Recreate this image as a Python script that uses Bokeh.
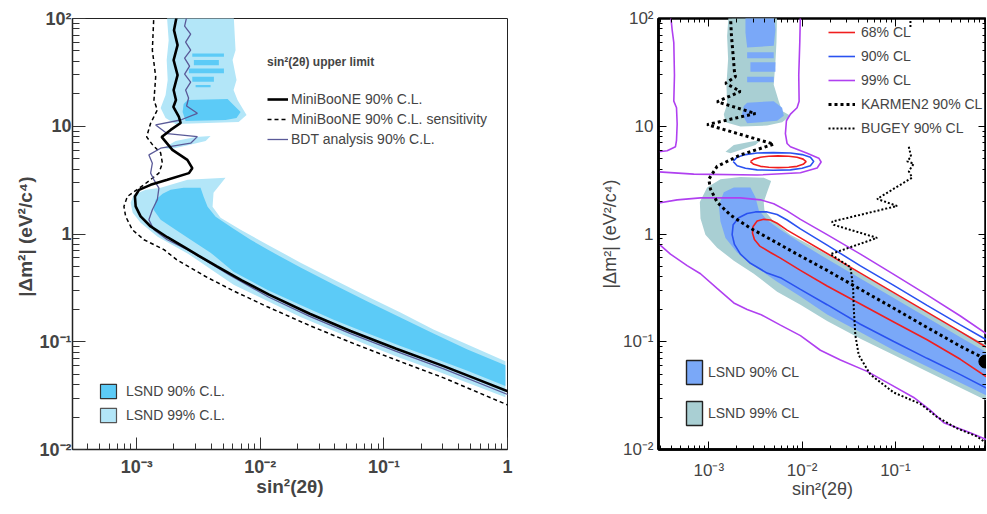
import numpy as np
from bokeh.plotting import figure
from bokeh.layouts import row
from bokeh.models import FixedTicker, CustomJSTickFormatter, LogAxis, Legend, LegendItem
from bokeh.embed import file_html
from bokeh.resources import INLINE

# ============ DATA: log10(sin^2(2theta)) and log10(|dm^2| [eV^2/c^4]) ============
# ---- left panel ----
L_lsnd99_top_lx = [-2.757, -2.216, -2.200, -2.224, -2.192, -2.216, -2.184, -2.111, -2.175, -2.685, -2.766, -2.806, -2.766, -2.749, -2.757, -2.741]
L_lsnd99_top_ly = [2.05, 2.05, 1.706, 1.614, 1.429, 1.336, 1.243, 1.104, 1.040, 1.021, 1.077, 1.169, 1.290, 1.429, 1.614, 1.799]
L_lsnd99_isl_lx = [-2.782, -2.685, -2.523, -2.402, -2.442, -2.604, -2.725]
L_lsnd99_isl_ly = [0.799, 0.864, 0.901, 0.910, 0.864, 0.818, 0.790]
L_lsnd99_low_lx = [-2.806, -2.588, -2.281, -2.378, -2.386, -2.321, -2.159, -1.941, -1.674, -1.407, -1.133, -0.866, -0.599, -0.324, -0.017,
                   -0.017, -0.324, -0.599, -0.866, -1.133, -1.674, -2.216, -2.588, -2.830, -2.968, -3.032, -3.049, -3.024, -2.927]
L_lsnd99_low_ly = [0.429, 0.503, 0.521, 0.382, 0.253, 0.151, 0.040, -0.099, -0.266, -0.423, -0.581, -0.729, -0.886, -1.025, -1.182,
                   -1.516, -1.380, -1.260, -1.150, -1.030, -0.770, -0.470, -0.180, -0.025, 0.105, 0.197, 0.290, 0.364, 0.410]
L_lsnd90_blob_lx = [-2.588, -2.264, -2.216, -2.159, -2.192, -2.281, -2.604, -2.628, -2.620]
L_lsnd90_blob_ly = [1.243, 1.253, 1.197, 1.132, 1.077, 1.058, 1.049, 1.132, 1.206]
L_strip_x0 = [-2.550, -2.537, -2.577, -2.550, -2.523]
L_strip_x1 = [-2.294, -2.335, -2.294, -2.375, -2.402]
L_strip_y0 = [1.644, 1.567, 1.491, 1.413, 1.361]
L_strip_y1 = [1.676, 1.614, 1.537, 1.459, 1.382]
L_lsnd90_low_lx = [-2.725, -2.620, -2.483, -2.458, -2.426, -2.361, -2.216, -2.078, -1.941, -1.674, -1.407, -1.133, -0.866, -0.599, -0.324, -0.017,
                   -0.017, -0.324, -0.599, -0.866, -1.133, -1.407, -1.674, -1.941, -2.216, -2.402, -2.563, -2.685, -2.806, -2.863, -2.846, -2.790]
L_lsnd90_low_ly = [0.410, 0.429, 0.429, 0.345, 0.253, 0.160, 0.049, -0.053, -0.145, -0.312, -0.469, -0.627, -0.775, -0.923, -1.071, -1.219,
                   -1.410, -1.270, -1.150, -1.040, -0.920, -0.795, -0.660, -0.520, -0.350, -0.173, -0.053, 0.040, 0.132, 0.225, 0.318, 0.373]
L_mb_lx = [-2.671, -2.698, -2.669, -2.701, -2.669, -2.701, -2.682, -2.703, -2.658, -2.644, -2.725, -2.798, -2.711, -2.590, -2.550, -2.577,
           -2.752, -2.887, -2.981, -3.014, -3.008, -2.968, -2.887, -2.752, -2.618, -2.500, -2.350, -2.150, -1.933, -1.600, -1.270, -0.900, -0.516, 0.02]
L_mb_ly = [2.05, 1.892, 1.753, 1.614, 1.475, 1.336, 1.243, 1.179, 1.086, 1.030, 0.966, 0.901, 0.781, 0.688, 0.611, 0.565,
           0.503, 0.456, 0.410, 0.348, 0.256, 0.163, 0.070, -0.030, -0.120, -0.200, -0.300, -0.430, -0.560, -0.740, -0.900, -1.065, -1.226, -1.467]
L_sens_lx = [-2.860, -2.873, -2.846, -2.860, -2.833, -2.887, -2.903, -2.919, -2.871, -2.806, -2.792, -2.820, -2.941, -3.075, -3.103,
             -3.089, -3.035, -2.941, -2.779, -2.677, -2.450, -2.213, -1.943, -1.600, -1.270, -0.900, -0.516, 0.02]
L_sens_ly = [2.05, 1.706, 1.459, 1.243, 1.151, 1.028, 0.966, 0.901, 0.827, 0.753, 0.657, 0.565, 0.457, 0.348, 0.256,
             0.163, 0.040, -0.053, -0.145, -0.238, -0.390, -0.530, -0.675, -0.850, -1.005, -1.170, -1.335, -1.596]
L_bdt_lx = [-2.588, -2.612, -2.563, -2.604, -2.563, -2.612, -2.572, -2.612, -2.563, -2.604, -2.580, -2.596, -2.509, -2.644, -2.846, -2.752,
            -2.509, -2.563, -2.806, -2.901, -2.873, -2.887, -2.860, -2.820, -2.833, -2.873, -2.901, -2.860, -2.752, -2.590,
            -2.450, -2.250, -1.933, -1.600, -1.270, -0.900, -0.516, 0.02]
L_bdt_ly = [2.05, 1.929, 1.855, 1.781, 1.706, 1.632, 1.558, 1.484, 1.410, 1.336, 1.262, 1.188, 1.120, 1.058, 1.012, 0.931,
            0.904, 0.843, 0.796, 0.734, 0.657, 0.565, 0.503, 0.426, 0.318, 0.225, 0.132, 0.040, -0.053, -0.145,
            -0.240, -0.380, -0.585, -0.765, -0.925, -1.090, -1.252, -1.498]

# ---- right panel ----
R_lsnd99_top_lx = [-2.786, -2.268, -2.275, -2.286, -2.304, -2.250, -2.214, -2.125, -2.214, -2.375, -2.661, -2.821, -2.839, -2.804, -2.811, -2.793, -2.804]
R_lsnd99_top_ly = [2.05, 2.05, 1.776, 1.595, 1.384, 1.233, 1.142, 1.097, 1.036, 1.006, 0.997, 1.036, 1.112, 1.202, 1.384, 1.625, 1.837]
R_lsnd99_isl_lx = [-2.821, -2.732, -2.554, -2.446, -2.500, -2.661, -2.768]
R_lsnd99_isl_ly = [0.764, 0.825, 0.855, 0.870, 0.825, 0.779, 0.749]
R_lsnd99_low_lx = [-2.875, -2.661, -2.411, -2.332, -2.375, -2.411, -2.404, -2.304, -2.125, -1.875, -1.554, -1.196, -0.839, -0.482, 0.018,
                   0.018, -0.304, -0.661, -1.018, -1.375, -1.732, -2.018, -2.268, -2.518, -2.732, -2.911, -3.036, -3.089, -3.096, -3.018]
R_lsnd99_low_ly = [0.508, 0.529, 0.523, 0.492, 0.387, 0.296, 0.221, 0.115, -0.006, -0.120, -0.280, -0.460, -0.640, -0.820, -1.050,
                   -1.562, -1.426, -1.275, -1.124, -0.973, -0.807, -0.656, -0.535, -0.369, -0.248, -0.127, -0.006, 0.145, 0.296, 0.432]
R_lsnd90_top_lx = [-2.607, -2.304, -2.286, -2.304, -2.589, -2.607]
R_lsnd90_top_ly = [2.05, 2.05, 1.897, 1.746, 1.731, 1.867]
R_strip_x0 = [-2.589, -2.554, -2.589]
R_strip_x1 = [-2.304, -2.286, -2.304]
R_strip_y0 = [1.631, 1.505, 1.408]
R_strip_y1 = [1.686, 1.595, 1.459]
R_lsnd90_blob_lx = [-2.589, -2.304, -2.214, -2.196, -2.268, -2.589, -2.643, -2.625]
R_lsnd90_blob_ly = [1.218, 1.233, 1.172, 1.097, 1.051, 1.027, 1.112, 1.187]
R_lsnd90_low_lx = [-2.732, -2.554, -2.500, -2.464, -2.375, -2.232, -2.018, -1.732, -1.375, -1.018, -0.661, -0.304, 0.018,
                   0.018, -0.304, -0.661, -1.018, -1.375, -1.732, -2.018, -2.268, -2.518, -2.696, -2.821, -2.875, -2.893, -2.839]
R_lsnd90_low_ly = [0.432, 0.432, 0.341, 0.221, 0.130, 0.039, -0.082, -0.233, -0.414, -0.595, -0.776, -0.958, -1.118,
                   -1.517, -1.381, -1.230, -1.079, -0.912, -0.746, -0.580, -0.444, -0.293, -0.172, -0.036, 0.115, 0.266, 0.387]
R_c68_lx = [0.018, -0.304, -0.661, -1.018, -1.375, -1.732, -2.018, -2.161, -2.268, -2.339, -2.411, -2.482, -2.525, -2.532, -2.511,
            -2.454, -2.339, -2.232, -2.018, -1.732, -1.375, -1.018, -0.661, -0.304, 0.018]
R_c68_ly = [-1.073, -0.906, -0.725, -0.544, -0.363, -0.181, -0.036, 0.036, 0.100, 0.130, 0.136, 0.121, 0.069, 0.009, -0.051,
            -0.112, -0.172, -0.224, -0.338, -0.483, -0.650, -0.816, -0.982, -1.163, -1.350]
R_c90_lx = [0.018, -0.304, -0.661, -1.018, -1.375, -1.732, -2.018, -2.161, -2.268, -2.375, -2.500, -2.589, -2.679, -2.739, -2.750,
            -2.725, -2.661, -2.554, -2.375, -2.232, -2.018, -1.732, -1.375, -1.018, -0.661, -0.304, 0.018]
R_c90_ly = [-1.003, -0.843, -0.662, -0.477, -0.296, -0.103, 0.048, 0.130, 0.181, 0.205, 0.205, 0.190, 0.151, 0.085, -0.006,
            -0.097, -0.187, -0.272, -0.363, -0.405, -0.514, -0.656, -0.837, -0.997, -1.154, -1.305, -1.450]
R_c99a_lx = [-3.536, -3.339, -3.089, -2.661, -2.446, -2.304, -2.161, -2.018, -1.732, -1.375, -1.018, -0.661, -0.304, 0.018]
R_c99a_ly = [0.287, 0.317, 0.335, 0.335, 0.317, 0.281, 0.215, 0.136, -0.006, -0.187, -0.375, -0.565, -0.761, -0.952]
R_c99b_lx = [-3.536, -3.411, -3.232, -3.089, -2.911, -2.732, -2.589, -2.446, -2.232, -2.018, -1.804, -1.589, -1.304, -1.054, -0.804, -0.625, -0.482, -0.232, 0.018]
R_c99b_ly = [-0.091, -0.187, -0.293, -0.369, -0.505, -0.640, -0.701, -0.746, -0.846, -0.943, -1.079, -1.169, -1.275, -1.396, -1.517, -1.637, -1.752, -1.834, -1.924]
R_c99c_lx = [-3.411, -3.393, -3.375, -3.368, -3.375, -3.346, -3.339, -3.346, -3.357, -3.446, -3.536]
R_c99c_ly = [2.05, 1.897, 1.776, 1.474, 1.233, 1.172, 1.021, 0.870, 0.810, 0.773, 0.764]
R_c99d_lx = [-2.018, -2.025, -2.036, -2.032, -2.054, -2.125, -2.168, -2.179, -2.161, -2.125, -1.946, -1.821, -1.796, -1.839, -2.018, -2.482, -3.161, -3.536]
R_c99d_ly = [2.05, 1.776, 1.474, 1.233, 1.172, 1.112, 1.051, 0.931, 0.840, 0.810, 0.749, 0.704, 0.668, 0.613, 0.568, 0.547, 0.556, 0.577]
R_e68_lx = [-2.554, -2.518, -2.446, -2.357, -2.257, -2.143, -2.054, -1.989, -1.957, -1.989, -2.054, -2.143, -2.257, -2.357, -2.446, -2.518, -2.554]
R_e68_ly = [0.671, 0.695, 0.713, 0.722, 0.725, 0.722, 0.713, 0.695, 0.671, 0.647, 0.628, 0.619, 0.616, 0.619, 0.628, 0.647, 0.671]
R_e90_lx = [-2.739, -2.696, -2.607, -2.482, -2.307, -2.125, -2.000, -1.911, -1.875, -1.911, -2.000, -2.125, -2.307, -2.482, -2.607, -2.696, -2.739]
R_e90_ly = [0.674, 0.713, 0.737, 0.752, 0.755, 0.752, 0.737, 0.713, 0.674, 0.634, 0.610, 0.595, 0.592, 0.595, 0.610, 0.634, 0.674]
R_karmen_lx = [-2.768, -2.757, -2.739, -2.725, -2.714, -2.821, -2.661, -2.911, -2.500, -3.018, -2.304, -2.661, -2.911, -3.000, -2.982,
               -2.911, -2.768, -2.554, -2.304, -2.054, -1.732, -1.375, -1.018, -0.661, -0.304, 0.018]
R_karmen_ly = [2.03, 1.837, 1.656, 1.505, 1.459, 1.399, 1.323, 1.227, 1.118, 1.015, 0.834, 0.734, 0.628, 0.508, 0.417,
               0.296, 0.175, 0.054, -0.066, -0.187, -0.338, -0.514, -0.689, -0.867, -1.042, -1.184]
R_bugey_lx = [-0.857, -0.832, -0.875, -0.804, -0.857, -0.821, -1.196, -0.982, -1.679, -1.661, -1.196, -1.696, -1.482, -1.454, -1.446,
              -1.429, -1.393, -1.268, -1.018, -0.732, -0.554, -0.339, -0.125, 0.018]
R_bugey_ly = [0.810, 0.719, 0.674, 0.653, 0.583, 0.523, 0.326, 0.260, 0.115, 0.085, -0.036, -0.187, -0.308, -0.489, -0.701,
              -0.943, -1.124, -1.305, -1.471, -1.577, -1.698, -1.804, -1.879, -1.970]
R_bugey_top_lx = [-0.839, -0.839]
R_bugey_top_ly = [2.05, 1.921]
# KARMEN2 best-fit marker at the right edge
R_dot_lx = [-0.036]
R_dot_ly = [-1.184]

# legend-only swatch (lies far outside both ranges, so only the legend shows it)
PROXY_X = [1e-9, 2e-9, 2e-9, 1e-9]
PROXY_Y = [1e-9, 1e-9, 2e-9, 2e-9]

MAJOR = [1e-3, 1e-2, 1e-1, 1.0]
MAJOR_Y = [1e-2, 1e-1, 1.0, 10.0, 100.0]


def p10(a):
    return [10.0 ** v for v in a]


MINOR = [m * 10.0 ** k for k in range(-5, 3) for m in range(2, 10)]

FMT = CustomJSTickFormatter(code="""
const e = Math.round(Math.log10(tick));
if (e === 0) { return "1"; }
if (e === 1) { return "10"; }
const sup = {"-": "\u207b", "0": "\u2070", "1": "\u00b9", "2": "\u00b2", "3": "\u00b3",
             "4": "\u2074", "5": "\u2075", "6": "\u2076", "7": "\u2077", "8": "\u2078", "9": "\u2079"};
let s = "10";
for (const c of String(e)) { s += sup[c]; }
return s;
""")
FONT = "Liberation Sans"

# ================= LEFT PANEL =================
p1 = figure(width=540, height=512, x_axis_type="log", y_axis_type="log",
            x_range=(10 ** -3.519, 1.0), y_range=(0.01, 100.0),
            output_backend="svg", toolbar_location=None,
            min_border_left=72, min_border_right=33, min_border_top=18, min_border_bottom=62)
p1.grid.visible = False
p1.outline_line_color = "#222222"
p1.outline_line_width = 1

C99L = "#b3e6f8"
C90L = "#5ccbf7"
p1.patches(xs=[p10(L_lsnd99_top_lx), p10(L_lsnd99_isl_lx), p10(L_lsnd99_low_lx)],
           ys=[p10(L_lsnd99_top_ly), p10(L_lsnd99_isl_ly), p10(L_lsnd99_low_ly)],
           fill_color=C99L, line_color=None)
p1.patches(xs=[p10(L_lsnd90_blob_lx), p10(L_lsnd90_low_lx)],
           ys=[p10(L_lsnd90_blob_ly), p10(L_lsnd90_low_ly)],
           fill_color=C90L, line_color=None)
p1.quad(left=p10(L_strip_x0), right=p10(L_strip_x1), bottom=p10(L_strip_y0), top=p10(L_strip_y1),
        fill_color=C90L, line_color=None)
r_sens = p1.line(p10(L_sens_lx), p10(L_sens_ly), line_color="black", line_width=1.5, line_dash="4 3")
r_bdt = p1.line(p10(L_bdt_lx), p10(L_bdt_ly), line_color="#5a5a98", line_width=1.3)
r_mb = p1.line(p10(L_mb_lx), p10(L_mb_ly), line_color="black", line_width=2.6)
d90L = p1.patch(x=PROXY_X, y=PROXY_Y, fill_color=C90L, line_color="#333333", line_width=1.2)
d99L = p1.patch(x=PROXY_X, y=PROXY_Y, fill_color=C99L, line_color="#555555", line_width=1.2)

for ax in (p1.xaxis[0], p1.yaxis[0]):
    ax.formatter = FMT
    ax.axis_line_width = 1.5
    ax.axis_line_color = "#222222"
    ax.major_tick_out = 0
    ax.minor_tick_out = 0
    ax.major_tick_line_color = "#333333"
    ax.minor_tick_line_color = "#333333"
    ax.major_label_text_font = FONT
    ax.major_label_text_font_style = "bold"
    ax.major_label_text_font_size = "18px"
    ax.axis_label_text_font = FONT
    ax.axis_label_text_font_style = "bold"
    ax.axis_label_text_font_size = "19px"
p1.xaxis[0].ticker = FixedTicker(ticks=MAJOR, minor_ticks=MINOR)
p1.yaxis[0].ticker = FixedTicker(ticks=MAJOR_Y, minor_ticks=MINOR)
p1.xaxis[0].major_tick_in = 12
p1.xaxis[0].minor_tick_in = 6
p1.yaxis[0].major_tick_in = 13
p1.yaxis[0].minor_tick_in = 7
p1.xaxis[0].major_label_standoff = 7
p1.yaxis[0].major_label_standoff = 1
p1.xaxis[0].axis_label = "sin\u00b2(2\u03b8)"
p1.yaxis[0].axis_label = "|\u0394m\u00b2|  (eV\u00b2/c\u2074)"
p1.xaxis[0].axis_label_standoff = -4
p1.yaxis[0].axis_label_standoff = 0

leg1 = Legend(items=[LegendItem(label="MiniBooNE 90% C.L.", renderers=[r_mb]),
                     LegendItem(label="MiniBooNE 90% C.L. sensitivity", renderers=[r_sens]),
                     LegendItem(label="BDT analysis 90% C.L.", renderers=[r_bdt])],
              location=(195, 300), title="sin\u00b2(2\u03b8) upper limit",
              title_text_font=FONT, title_text_font_style="bold", title_text_font_size="12px",
              title_standoff=20, label_text_font=FONT, label_text_font_size="14px",
              glyph_width=21, glyph_height=20, label_height=20, label_standoff=3, spacing=0,
              padding=0, margin=0, border_line_color=None, background_fill_alpha=0)
leg2 = Legend(items=[LegendItem(label="LSND 90% C.L.", renderers=[d90L]),
                     LegendItem(label="LSND 99% C.L.", renderers=[d99L])],
              location=(26, 25), label_text_font=FONT, label_text_font_size="14px",
              glyph_width=20, glyph_height=18, label_height=18, label_standoff=8, spacing=6,
              padding=0, margin=0, border_line_color=None, background_fill_alpha=0)
p1.add_layout(leg1)
p1.add_layout(leg2)

# ================= RIGHT PANEL =================
p2 = figure(width=446, height=512, x_axis_type="log", y_axis_type="log",
            x_range=(10 ** -3.539, 10 ** -0.024), y_range=(0.01, 100.0),
            output_backend="svg", toolbar_location=None,
            min_border_left=118, min_border_right=0, min_border_top=8, min_border_bottom=63)
p2.grid.visible = False
p2.outline_line_color = "black"
p2.outline_line_width = 2.5

C99R = "#a9cfd3"
C90R = "#7aa8f8"
p2.patches(xs=[p10(R_lsnd99_top_lx), p10(R_lsnd99_isl_lx), p10(R_lsnd99_low_lx)],
           ys=[p10(R_lsnd99_top_ly), p10(R_lsnd99_isl_ly), p10(R_lsnd99_low_ly)],
           fill_color=C99R, line_color=None)
p2.patches(xs=[p10(R_lsnd90_top_lx), p10(R_lsnd90_blob_lx), p10(R_lsnd90_low_lx)],
           ys=[p10(R_lsnd90_top_ly), p10(R_lsnd90_blob_ly), p10(R_lsnd90_low_ly)],
           fill_color=C90R, line_color=None)
p2.quad(left=p10(R_strip_x0), right=p10(R_strip_x1), bottom=p10(R_strip_y0), top=p10(R_strip_y1),
        fill_color=C90R, line_color=None)

PURPLE = "#b040f0"
BLUE = "#2a52f0"
RED = "#f01e1e"
r99 = p2.multi_line(xs=[p10(R_c99a_lx), p10(R_c99b_lx), p10(R_c99c_lx), p10(R_c99d_lx)],
                    ys=[p10(R_c99a_ly), p10(R_c99b_ly), p10(R_c99c_ly), p10(R_c99d_ly)],
                    line_color=PURPLE, line_width=1.6)
r90 = p2.multi_line(xs=[p10(R_c90_lx), p10(R_e90_lx)], ys=[p10(R_c90_ly), p10(R_e90_ly)],
                    line_color=BLUE, line_width=1.6)
r68 = p2.multi_line(xs=[p10(R_c68_lx), p10(R_e68_lx)], ys=[p10(R_c68_ly), p10(R_e68_ly)],
                    line_color=RED, line_width=1.6)
rk = p2.line(p10(R_karmen_lx), p10(R_karmen_ly), line_color="black", line_width=3, line_dash="3 3")
rb = p2.multi_line(xs=[p10(R_bugey_lx), p10(R_bugey_top_lx)], ys=[p10(R_bugey_ly), p10(R_bugey_top_ly)],
                   line_color="black", line_width=2, line_dash="2 2")
p2.scatter(p10(R_dot_lx), p10(R_dot_ly), size=13, color="black")
d90R = p2.patch(x=PROXY_X, y=PROXY_Y, fill_color=C90R, line_color="#222222", line_width=1.4)
d99R = p2.patch(x=PROXY_X, y=PROXY_Y, fill_color=C99R, line_color="#222222", line_width=1.4)

for ax in (p2.xaxis[0], p2.yaxis[0]):
    ax.formatter = FMT
    ax.axis_line_width = 2.5
    ax.major_tick_in = 8
    ax.major_tick_out = 0
    ax.minor_tick_in = 4
    ax.minor_tick_out = 0
    ax.major_label_text_font = FONT
    ax.major_label_text_font_size = "17px"
    ax.axis_label_text_font = FONT
    ax.axis_label_text_font_style = "normal"
    ax.axis_label_text_font_size = "18px"
p2.xaxis[0].ticker = FixedTicker(ticks=MAJOR, minor_ticks=MINOR)
p2.yaxis[0].ticker = FixedTicker(ticks=MAJOR_Y, minor_ticks=MINOR)
p2.xaxis[0].major_label_standoff = 11
p2.yaxis[0].major_label_standoff = 5
p2.xaxis[0].axis_label = "sin\u00b2(2\u03b8)"
p2.yaxis[0].axis_label = "|\u0394m\u00b2| (eV\u00b2/c\u2074)"
p2.xaxis[0].axis_label_standoff = -4
p2.yaxis[0].axis_label_standoff = 0

EMPTY = CustomJSTickFormatter(code="return '';")
top_ax = LogAxis(ticker=FixedTicker(ticks=MAJOR, minor_ticks=MINOR), formatter=EMPTY,
                 major_tick_in=8, major_tick_out=0, minor_tick_in=4, minor_tick_out=0,
                 major_label_standoff=0, axis_line_color=None)
right_ax = LogAxis(ticker=FixedTicker(ticks=MAJOR_Y, minor_ticks=MINOR), formatter=EMPTY,
                   major_tick_in=8, major_tick_out=0, minor_tick_in=4, minor_tick_out=0,
                   major_label_standoff=0, axis_line_color=None)
p2.add_layout(top_ax, "above")
p2.add_layout(right_ax, "right")

leg3 = Legend(items=[LegendItem(label="68% CL", renderers=[r68]),
                     LegendItem(label="90% CL", renderers=[r90]),
                     LegendItem(label="99% CL", renderers=[r99]),
                     LegendItem(label="KARMEN2 90% CL", renderers=[rk]),
                     LegendItem(label="BUGEY 90% CL", renderers=[rb])],
              location=(170, 309), label_text_font=FONT, label_text_font_size="14px",
              glyph_width=27, glyph_height=24, label_height=24, label_standoff=6, spacing=0,
              padding=0, margin=0, border_line_color=None, background_fill_alpha=0)
leg4 = Legend(items=[LegendItem(label="LSND 90% CL", renderers=[d90R]),
                     LegendItem(label="LSND 99% CL", renderers=[d99R])],
              location=(26, 21), label_text_font=FONT, label_text_font_size="14px",
              glyph_width=20, glyph_height=30, label_height=30, label_standoff=4, spacing=11,
              padding=0, margin=0, border_line_color=None, background_fill_alpha=0)
p2.add_layout(leg3)
p2.add_layout(leg4)

layout = row(p1, p2)
open("out.html", "w").write(file_html(layout, INLINE))
